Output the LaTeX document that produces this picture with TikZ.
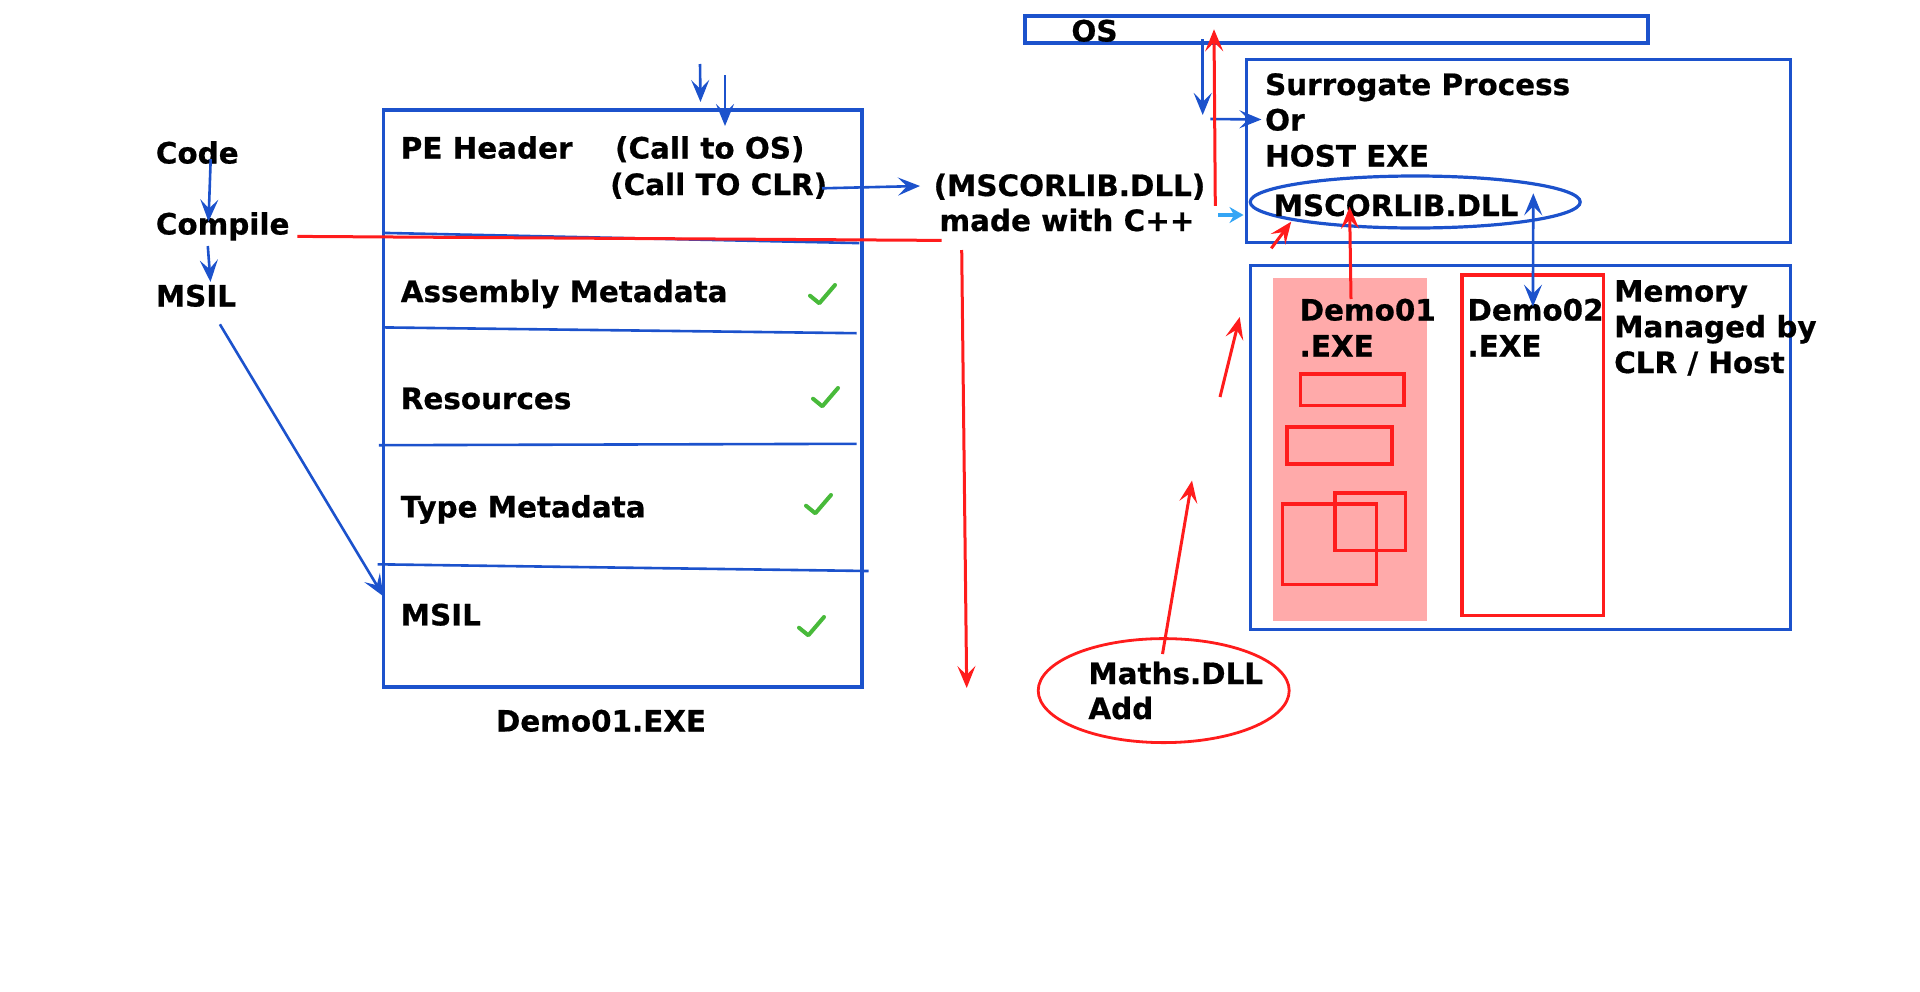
\documentclass[tikz,border=0pt]{standalone}
\usepackage{fontspec}
\setmainfont{DejaVu Sans}[BoldFeatures={FakeBold=0.6}]
\usetikzlibrary{arrows.meta,shapes.geometric,fit}
\definecolor{lnblue}{RGB}{28,82,204}
\definecolor{lnred}{RGB}{255,28,28}
\definecolor{pinkfill}{RGB}{255,170,170}
\definecolor{ckgreen}{RGB}{72,186,58}
\definecolor{ltblue}{RGB}{52,165,245}
\begin{document}
\begin{tikzpicture}[x=0.5pt,y=-0.5pt,
  txt/.style={inner sep=0pt, font=\fontsize{14.7}{18}\selectfont\bfseries, anchor=base west},
  bbox/.style={draw=lnblue, line width=1.6pt, inner sep=0pt},
  rbox/.style={draw=lnred, line width=1.7pt, inner sep=0pt},
  blu/.style={draw=lnblue, line width=1.3pt},
  rd/.style={draw=lnred, line width=1.5pt},
  arw/.style={-{Stealth[length=11pt,width=9pt,inset=4.5pt]}},
  dblarw/.style={{Stealth[length=11pt,width=9pt,inset=4.5pt]}-{Stealth[length=11pt,width=9pt,inset=4.5pt]}},
  greencheck/.pic={\draw[ckgreen, line width=2pt, line cap=round, line join=round] (0,10.7) -- (9.3,18.3) -- (25,0);}
]
\useasboundingbox (0,0) rectangle (1920,991);

% ---------- left column ----------
\node[txt] (code) at (155.5,163.5) {Code};
\node[txt] (compile) at (155.5,234.5) {Compile};
\node[txt] (msil) at (155.5,306.5) {MSIL};

% ---------- Demo01.EXE box ----------
\node[bbox, fit={(383.5,110) (862,687)}] (demo) {};
\coordinate (d1a) at (383.5,232.9); \coordinate (d1b) at (859.4,243.1);
\coordinate (d2a) at (382.3,327.4); \coordinate (d2b) at (856.5,333.2);
\coordinate (d3a) at (378.9,445.2); \coordinate (d3b) at (856.5,443.8);
\coordinate (d4a) at (377.7,564.3); \coordinate (d4b) at (868.5,571);
\draw[blu] (d1a) -- (d1b);
\draw[blu] (d2a) -- (d2b);
\draw[blu] (d3a) -- (d3b);
\draw[blu] (d4a) -- (d4b);

\node[txt] (pe) at (400.4,158.5) {PE Header};
\node[txt] (callos) at (614.7,158.5) {(Call to OS)};
\node[txt] (callclr) at (609.8,195) {(Call TO CLR)};
\node[txt] (asm) at (400.4,302) {Assembly Metadata};
\node[txt] (res) at (400.4,409) {Resources};
\node[txt] (typ) at (400.4,517.4) {Type Metadata};
\node[txt] (msilb) at (400.4,625.4) {MSIL};
\node[txt, anchor=base] (demolbl) at (601,731.5) {Demo01.EXE};

\pic at (810,285) {greencheck};
\pic at (813,388) {greencheck};
\pic at (806,495) {greencheck};
\pic at (799,617) {greencheck};

% left arrows
\coordinate (c1) at (210.7,159); \coordinate (c2) at (208.5,221.5);
\draw[blu,arw] (c1) -- (c2);
\coordinate (c3) at (207.8,246); \coordinate (c4) at (210.5,282);
\draw[blu,arw] (c3) -- (c4);
\coordinate (c5) at (219.9,324.3); \coordinate (c6) at (383.5,596.4);
\draw[blu,arw] (c5) -- (c6);

% top arrows into the box
\coordinate (t1a) at (700,64); \coordinate (t1b) at (700.5,102);
\draw[blu,arw] (t1a) -- (t1b);
\coordinate (t2a) at (725,75); \coordinate (t2b) at (725,126);
\draw[blu,arw] (t2a) -- (t2b);

% red line from Compile
\coordinate (r1a) at (297.4,236.4); \coordinate (r1b) at (941.7,240.4);
\draw[rd] (r1a) -- (r1b);

% ---------- MSCORLIB text ----------
\node[txt, anchor=base] (mscor) at (1069.5,196) {(MSCORLIB.DLL)};
\node[txt, anchor=base] (madec) at (1067,231) {made with C++};
\coordinate (a1) at (822,188.3); \coordinate (a2) at (920,186);
\draw[blu,arw] (a1) -- (a2);

% long red arrow down
\coordinate (r2a) at (961.7,250); \coordinate (r2b) at (966.7,688);
\draw[rd,arw] (r2a) -- (r2b);

% ---------- OS ----------
\node[bbox, fit={(1025,16) (1648,43)}] (osbox) {};
\node[txt] (os) at (1071,41.5) {OS};

% ---------- Surrogate process ----------
\node[bbox, fit={(1246.7,59.3) (1790.5,242.5)}] (surr) {};
\node[txt] (sp1) at (1264.7,95) {Surrogate Process};
\node[txt] (sp2) at (1264.7,130.5) {Or};
\node[txt] (sp3) at (1264.7,166.5) {HOST EXE};
\node[draw=lnblue, line width=1.6pt, ellipse, inner sep=0pt, minimum width=165pt, minimum height=26pt] (ell) at (1415.2,202) {};
\node[txt] (msc2) at (1273.3,216) {MSCORLIB.DLL};

% OS arrows
\coordinate (o1a) at (1202.7,39); \coordinate (o1b) at (1202.7,115);
\draw[blu,arw] (o1a) -- (o1b);
\coordinate (o2a) at (1210.3,119); \coordinate (o2b) at (1261.4,119.5);
\draw[blu,arw] (o2a) -- (o2b);
\coordinate (o3a) at (1215.3,205.8); \coordinate (o3b) at (1214,29.3);
\draw[rd,arw] (o3a) -- (o3b);

% light blue small arrow
\coordinate (lb1) at (1218.3,215); \coordinate (lb2) at (1243.5,215);
\draw[ltblue, line width=2.4pt, -{Stealth[length=7pt,width=8pt]}] (lb1) -- (lb2);

% small red arrow to ellipse
\coordinate (s1a) at (1271.3,248.3); \coordinate (s1b) at (1291.2,221.7);
\draw[rd,arw] (s1a) -- (s1b);

% ---------- Memory ----------
\node[bbox, fit={(1250.6,265.6) (1790.5,629.4)}] (mem) {};
\node[fill=pinkfill, inner sep=0pt, fit={(1272.9,278.3) (1427.2,621)}] (pinkcol) {};
\node[rbox, fit={(1300.5,374.1) (1403.8,405.7)}] (rr1) {};
\node[rbox, fit={(1287,427) (1392,464)}] (rr2) {};
\node[rbox, fit={(1282.3,504) (1376.2,584.4)}] (rr3) {};
\node[rbox, fit={(1335,493) (1405.5,550.5)}] (rr4) {};
\node[rbox, fit={(1461.9,275) (1603.3,615.4)}] (demo2) {};

\node[txt] (dm1a) at (1299.3,320.5) {Demo01};
\node[txt] (dm1b) at (1299.3,356.5) {.EXE};
\node[txt] (dm2a) at (1467.1,320.5) {Demo02};
\node[txt] (dm2b) at (1467.1,356.5) {.EXE};
\node[txt] (mm1) at (1613.8,301.6) {Memory};
\node[txt] (mm2) at (1613.8,337.2) {Managed by};
\node[txt] (mm3) at (1613.8,373) {CLR / Host};

% arrows between memory and ellipse
\coordinate (u1a) at (1351,299); \coordinate (u1b) at (1349.6,206.7);
\draw[rd,arw] (u1a) -- (u1b);
\coordinate (u2a) at (1533.3,193.3); \coordinate (u2b) at (1532.9,306.6);
\draw[blu,dblarw] (u2a) -- (u2b);

% red arrows from the left
\coordinate (v1a) at (1220,397); \coordinate (v1b) at (1239.7,317);
\draw[rd,arw] (v1a) -- (v1b);

% ---------- Maths.DLL ----------
\node[draw=lnred, line width=1.4pt, ellipse, inner sep=0pt, minimum width=125.5pt, minimum height=52pt] (maths) at (1163.7,690.6) {};
\node[txt] (mt1) at (1088,684) {Maths.DLL};
\node[txt] (mt2) at (1088,719) {Add};
\coordinate (m1a) at (1162.5,654); \coordinate (m1b) at (1192,480.5);
\draw[rd,arw] (m1a) -- (m1b);
\end{tikzpicture}
\end{document}
